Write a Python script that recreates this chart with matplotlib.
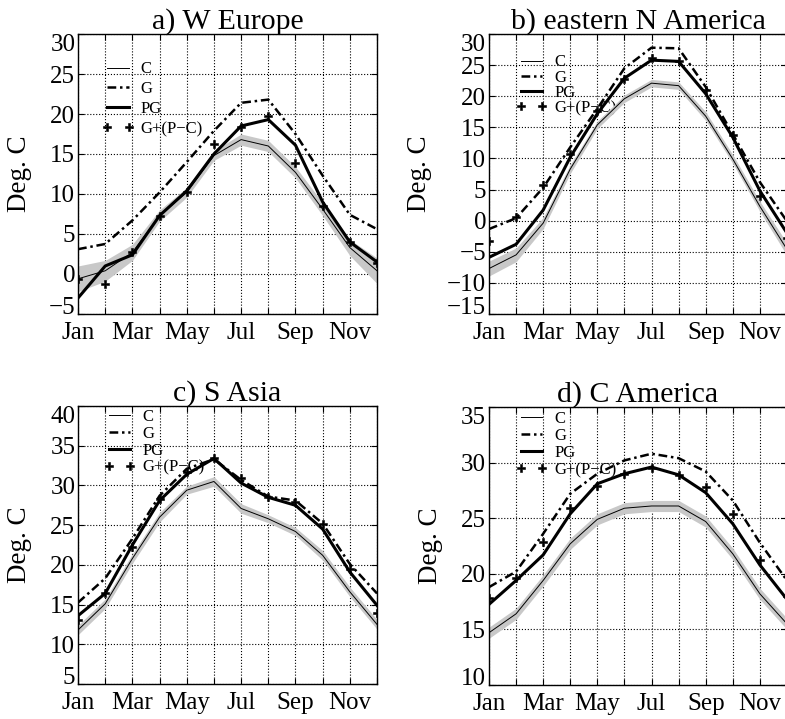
import matplotlib.pyplot as plt
import numpy as np

plt.rcParams['font.family'] = ['Liberation Serif', 'DejaVu Serif']

months = np.arange(1, 13)
month_labels = ['Jan', '', 'Mar', '', 'May', '', 'Jul', '', 'Sep', '', 'Nov', '']

# a) W Europe
eu_c = [-0.6, 0.4, 2.7, 7.3, 10.2, 14.8, 16.8, 16.0, 12.7, 8.1, 3.3, 0.4]
eu_spread = [1.6, 1.3, 1.0, 0.7, 0.6, 0.6, 0.7, 0.7, 0.7, 0.8, 1.0, 1.6]
eu_g = [3.1, 3.75, 6.7, 10.2, 14.0, 17.9, 21.4, 21.8, 17.5, 12.3, 7.4, 5.6]
eu_pg = [-3.0, 1.0, 2.4, 7.3, 10.4, 15.0, 18.5, 19.3, 16.1, 9.0, 4.0, 1.5]
eu_gpc = [-0.6, -1.25, 2.7, 7.3, 10.3, 16.25, 18.4, 19.8, 13.9, 8.5, 4.0, 1.4]

# b) eastern N America
na_c = [-7.7, -5.5, -0.4, 8.3, 15.4, 19.6, 22.1, 21.7, 16.8, 9.9, 2.3, -4.6]
na_spread = [1.2, 1.1, 0.9, 0.7, 0.6, 0.6, 0.6, 0.6, 0.7, 0.7, 0.8, 1.0]
na_g = [-1.35, 0.4, 5.3, 11.8, 18.0, 24.5, 27.8, 27.7, 21.5, 13.9, 6.2, -0.1]
na_pg = [-5.9, -3.8, 1.7, 10.2, 17.2, 22.9, 25.8, 25.6, 20.4, 13.4, 4.8, -2.0]
na_gpc = [-3.2, 0.6, 5.8, 10.7, 17.7, 22.7, 26.1, 25.6, 21.0, 13.8, 3.9, -2.8]

# c) S Asia
sa_c = [11.8, 15.1, 20.8, 26.0, 29.4, 30.5, 27.1, 25.8, 24.2, 21.2, 16.6, 12.5]
sa_spread = [0.6, 0.6, 0.6, 0.6, 0.5, 0.6, 0.6, 0.5, 0.5, 0.6, 0.6, 0.6]
sa_g = [15.25, 18.3, 23.3, 28.7, 32.1, 33.3, 30.7, 28.6, 28.1, 25.2, 20.1, 16.4]
sa_pg = [13.6, 16.4, 22.5, 28.1, 31.4, 33.4, 30.3, 28.5, 27.5, 24.5, 19.1, 14.9]
sa_gpc = [13.0, 16.4, 22.3, 28.3, 31.7, 33.4, 30.9, 28.5, 27.9, 25.1, 19.5, 14.0]

# d) C America
ca_c = [14.7, 16.4, 19.4, 22.7, 24.9, 25.9, 26.1, 26.1, 24.7, 21.8, 18.2, 15.5]
ca_spread = [0.5, 0.5, 0.5, 0.5, 0.5, 0.5, 0.5, 0.5, 0.5, 0.5, 0.5, 0.5]
ca_g = [18.8, 20.2, 23.6, 27.2, 29.0, 30.2, 30.8, 30.4, 29.2, 26.6, 22.8, 19.4]
ca_pg = [17.25, 19.4, 21.7, 25.4, 28.1, 29.0, 29.6, 28.9, 27.3, 24.5, 20.8, 17.7]
ca_gpc = [17.8, 19.6, 22.9, 25.9, 27.9, 29.0, 29.5, 28.9, 27.8, 25.4, 21.2, 18.0]

panels = [
    ('a) W Europe', eu_c, eu_spread, eu_g, eu_pg, eu_gpc, (-5, 30),
     [0.0994, 0.5633, 0.3809, 0.3894], -0.154, (0.08, 0.902), 0.23),
    ('b) eastern N America', na_c, na_spread, na_g, na_pg, na_gpc, (-15, 30),
     [0.6229, 0.5633, 0.3796, 0.3894], -0.191, (0.09, 0.927), -0.05),
    ('c) S Asia', sa_c, sa_spread, sa_g, sa_pg, sa_gpc, (5, 40),
     [0.0994, 0.0487, 0.3809, 0.3866], -0.154, (0.086, 0.99), 0.06),
    ('d) C America', ca_c, ca_spread, ca_g, ca_pg, ca_gpc, (10, 35),
     [0.6229, 0.0473, 0.3796, 0.3866], -0.155, (0.09, 0.985), 0.06),
]

dashdot = (0, (3.5, 1.5, 1, 1.5))

fig = plt.figure(figsize=(7.85, 7.19), dpi=100)

for title, c, spread, g, pg, gpc, ylim, rect, labx, legpos, lsp in panels:
    ax = fig.add_axes(rect)
    c = np.array(c)
    spread = np.array(spread)
    ax.fill_between(months, c - spread, c + spread, color='#c8c8c8', lw=0, zorder=2)
    l1, = ax.plot(months, c, color='k', lw=0.7, zorder=3)
    l2, = ax.plot(months, g, color='k', lw=1.8, linestyle=dashdot, zorder=3)
    l3, = ax.plot(months, pg, color='k', lw=2.2, zorder=3)
    l4, = ax.plot(months, gpc, color='k', lw=0, marker='P', markersize=5.5,
                  markeredgewidth=0.4, zorder=4)

    ax.set_xlim(1, 12)
    ax.set_ylim(*ylim)
    ax.set_xticks(months)
    ax.set_xticklabels(month_labels)
    yt = np.arange(ylim[0], ylim[1] + 1, 5)
    ax.set_yticks(yt)
    ax.set_yticklabels([f'{v:d}'.replace('-', '\u2212') for v in yt])
    # end labels sit inside the axes range, like the original
    labels = ax.get_yticklabels()
    labels[0].set_verticalalignment('baseline')
    labels[-1].set_verticalalignment('top')

    ax.tick_params(direction='in', length=4, width=0.8, labelsize=18,
                   top=True, right=True)
    ax.tick_params(axis='x', pad=6)
    ax.tick_params(axis='y', pad=2)
    ax.grid(True, linestyle=':', color='k', lw=0.8)
    ax.set_axisbelow(True)
    for sp in ax.spines.values():
        sp.set_linewidth(1.0)

    ax.set_title(title, fontsize=21.5, pad=4)
    ax.set_ylabel('Deg. C', fontsize=19.5)
    ax.yaxis.set_label_coords(labx, 0.5)

    leg = ax.legend([l1, l2, l3, l4], ['C', 'G', 'PG', 'G+(P\u2212C)'],
                    loc='upper left', bbox_to_anchor=legpos, frameon=False,
                    fontsize=12, borderpad=0, borderaxespad=0,
                    handlelength=1.9, handletextpad=0.4, labelspacing=lsp,
                    numpoints=2)
    leg.set_zorder(1)

fig.savefig('out.png', dpi=100)
